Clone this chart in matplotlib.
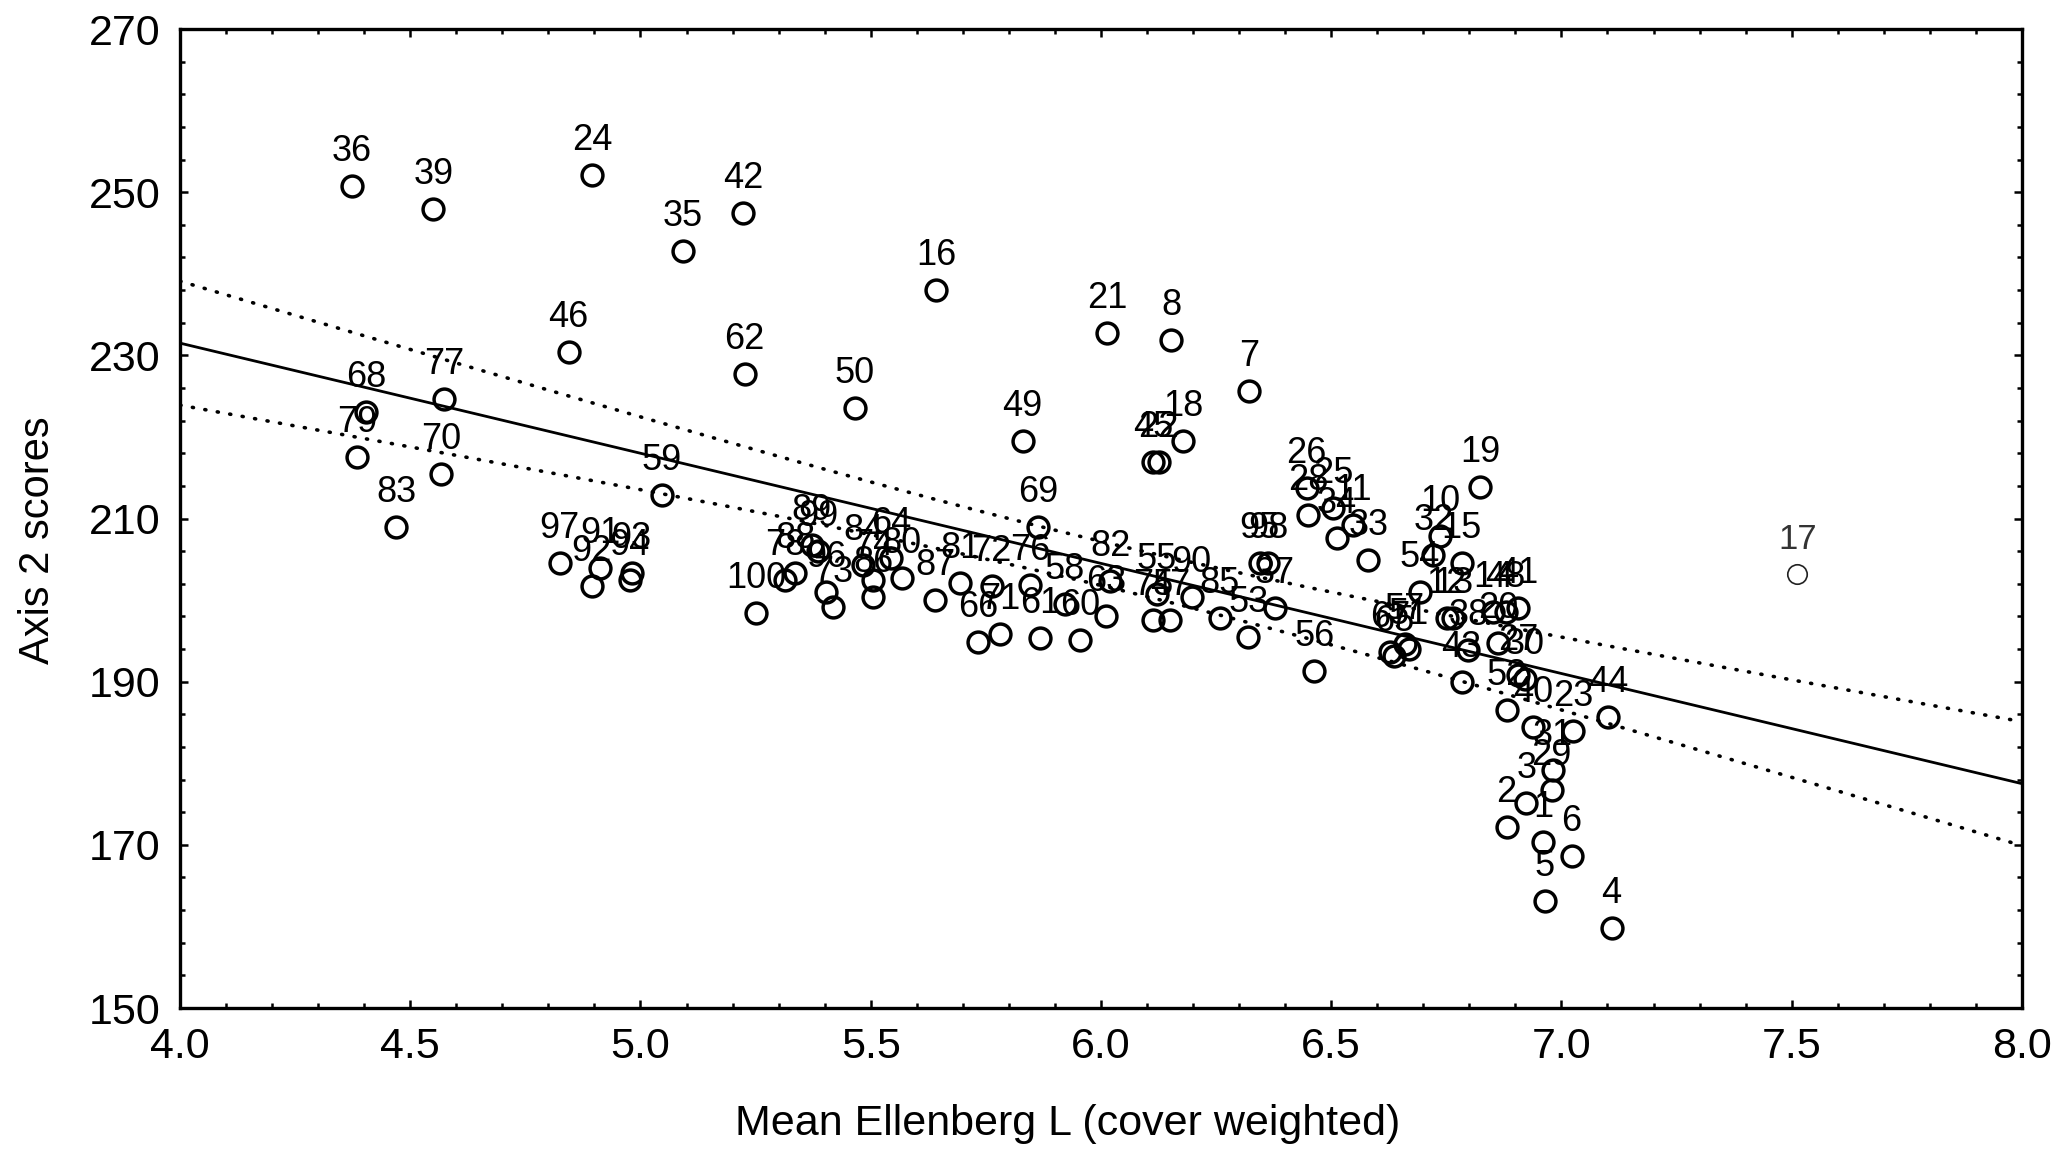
# Axis 2 scores against mean Ellenberg L, with fitted line and confidence band

import matplotlib
matplotlib.use('Agg')
import matplotlib.pyplot as plt
import numpy as np

plt.rcParams['font.family'] = ['Liberation Sans', 'DejaVu Sans']

# plot numbers and their coordinates
labels = [1, 2, 3, 4, 5, 6, 7, 8, 10, 11,
          12, 13, 14, 15, 16, 17, 18, 19, 20, 21,
          22, 23, 24, 25, 26, 27, 28, 29, 30, 31,
          32, 33, 34, 35, 36, 37, 38, 39, 40, 41,
          42, 43, 44, 45, 46, 47, 48, 49, 50, 51,
          52, 53, 54, 55, 56, 57, 58, 59, 60, 61,
          62, 63, 64, 65, 66, 67, 68, 69, 70, 71,
          72, 73, 74, 75, 76, 77, 78, 79, 80, 81,
          82, 83, 84, 85, 86, 87, 88, 89, 90, 91,
          92, 93, 94, 95, 96, 97, 98, 99, 100]
ell_l = [6.961, 6.881, 6.924, 7.109, 6.964, 7.022, 6.321, 6.153, 6.736, 6.548,
         6.751, 6.765, 6.852, 6.783, 5.642, 7.512, 6.178, 6.823, 6.862, 6.013,
         6.125, 7.026, 4.895, 6.504, 6.447, 6.906, 6.450, 6.979, 6.920, 6.982,
         6.722, 6.581, 6.513, 5.092, 4.373, 6.378, 6.798, 4.550, 6.939, 6.906,
         5.223, 6.783, 7.102, 6.113, 4.844, 6.150, 6.879, 5.830, 5.465, 6.668,
         6.881, 6.320, 6.693, 6.121, 6.463, 6.660, 5.922, 5.046, 5.954, 5.868,
         5.226, 6.012, 5.545, 6.637, 5.734, 6.628, 4.405, 5.864, 4.567, 5.781,
         5.763, 5.419, 5.506, 6.113, 5.846, 4.573, 5.314, 4.385, 5.567, 5.694,
         6.020, 4.470, 5.484, 6.258, 5.506, 5.640, 5.336, 5.372, 6.197, 4.912,
         4.894, 4.981, 4.977, 6.345, 5.404, 4.825, 6.363, 5.386, 5.252]
axis2 = [170.4, 172.2, 175.1, 159.8, 163.1, 168.6, 225.6, 231.9, 207.8, 209.2,
         197.8, 197.8, 198.6, 204.5, 238.0, 203.2, 219.5, 213.9, 194.7, 232.7,
         216.9, 183.9, 252.1, 211.3, 213.8, 190.8, 210.4, 176.7, 190.3, 179.2,
         205.5, 204.9, 207.6, 242.8, 250.7, 199.0, 193.9, 248.0, 184.5, 199.0,
         247.5, 190.0, 185.7, 216.9, 230.4, 197.6, 198.6, 219.5, 223.5, 194.0,
         186.5, 195.5, 201.0, 200.8, 191.3, 194.6, 199.5, 212.9, 195.1, 195.3,
         227.7, 198.0, 205.2, 193.1, 194.9, 193.6, 223.0, 209.0, 215.5, 195.9,
         201.7, 199.2, 202.5, 197.6, 201.9, 224.6, 202.5, 217.6, 202.7, 202.1,
         202.3, 208.9, 204.3, 197.8, 200.4, 200.0, 203.3, 206.8, 200.4, 203.9,
         201.7, 203.3, 202.5, 204.5, 201.0, 204.5, 204.5, 206.0, 198.4]

# plot 17 is printed lighter in the original
faint = [17]

# regression line and 95% band
fit_x = [4.0, 8.0]
fit_y = [231.5, 177.5]
band_centre = 6.0
band_mid = 2.7     # half width at the centre
band_end = 7.6     # half width at 4.0 and 8.0

fig = plt.figure(figsize=(20.59, 11.52), dpi=100)
ax = fig.add_axes([0.0874, 0.125, 0.8946, 0.8498])

xs = np.linspace(fit_x[0], fit_x[1], 200)
slope = (fit_y[1] - fit_y[0]) / (fit_x[1] - fit_x[0])
line = fit_y[0] + slope * (xs - fit_x[0])
k = ((band_end / band_mid) ** 2 - 1) / (fit_x[1] - band_centre) ** 2
half = band_mid * np.sqrt(1 + k * (xs - band_centre) ** 2)

ax.plot(xs, line, color='black', lw=2.0, zorder=2)
for sgn in (1, -1):
    ax.plot(xs, line + sgn * half, color='black', lw=2.6,
            linestyle=(0, (0.3, 3.2)), dash_capstyle='round', zorder=2)

for lab, x, y in zip(labels, ell_l, axis2):
    if lab in faint:
        ax.plot(x, y, 'o', ms=14, mfc='white', mec='#222222', mew=1.2, zorder=3)
        ax.annotate(str(lab), (x, y), xytext=(0, 18), textcoords='offset points',
                    ha='center', va='baseline', fontsize=25, color='#333333', zorder=4)
    else:
        ax.plot(x, y, 'o', ms=15, mfc='none', mec='black', mew=2.5, zorder=3)
        ax.annotate(str(lab), (x, y), xytext=(0, 18), textcoords='offset points',
                    ha='center', va='baseline', fontsize=26, color='black', zorder=4)

ax.set_xlim(4.0, 8.0)
ax.set_ylim(150, 270)
ax.set_xticks(np.arange(4.0, 8.01, 0.5))
ax.set_xticklabels(['%.1f' % v for v in np.arange(4.0, 8.01, 0.5)])
ax.set_xticks(np.arange(4.0, 8.01, 0.1), minor=True)
ax.set_yticks(np.arange(150, 271, 20))
ax.set_yticks(np.arange(150, 271, 4), minor=True)
ax.tick_params(which='both', direction='in', top=True, right=True,
               width=1.8, labelsize=31, pad=14)
ax.tick_params(which='major', length=6)
ax.tick_params(which='minor', length=3.5)
for sp in ax.spines.values():
    sp.set_linewidth(2.4)

ax.set_xlabel('Mean Ellenberg L (cover weighted)', fontsize=31)
ax.xaxis.set_label_coords(0.482, -0.098)
ax.set_ylabel('Axis 2 scores', fontsize=30)
ax.yaxis.set_label_coords(-0.066, 0.478)

fig.savefig('out.png', dpi=100, facecolor='white')
